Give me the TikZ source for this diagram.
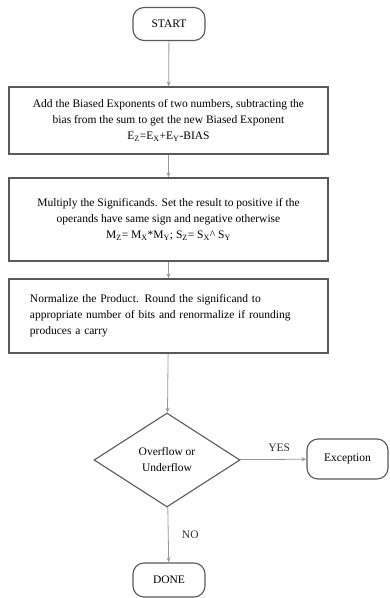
\documentclass[tikz,border=0pt]{standalone}
\usepackage{fontspec}
\setmainfont{Liberation Serif}
\usetikzlibrary{shapes.geometric,arrows.meta}
\begin{document}
\begin{tikzpicture}[x=1pt,y=-1pt,>={Stealth[length=5pt,width=4pt,open]},
	font=\fontsize{11.5}{16}\selectfont]
	\tikzset{term/.style={draw=black!65,line width=1.1pt,rounded corners=11pt,
			minimum width=72pt,minimum height=33pt,inner sep=0pt},
		procbox/.style={draw=black!65,line width=1.3pt,minimum width=319pt,
			inner sep=0pt,align=center},
		decide/.style={draw=black!65,line width=1.1pt,diamond,aspect=1.55,
			minimum width=146pt,minimum height=94pt,inner sep=0pt,align=center},
		flow/.style={->,draw=black!40,line width=0.8pt}}
	\useasboundingbox (0,0) rectangle (389,598);
	\node[term] (start) at (169,24) {START};
	\node[procbox,minimum height=67pt] (bexp) at (168.5,120.5)
	{Add the Biased Exponents of two numbers, subtracting the\\
		bias from the sum to get the new Biased Exponent\\
		E$_\mathrm{Z}$=E$_\mathrm{X}$+E$_\mathrm{Y}$-BIAS};
	\node[procbox,minimum height=83pt] (bmul) at (168.5,219.5)
	{Multiply the Significands. Set the result to positive if the\\
		operands have same sign and negative otherwise\\
		M$_\mathrm{Z}$= M$_\mathrm{X}$*M$_\mathrm{Y}$; S$_\mathrm{Z}$= S$_\mathrm{X}$\^{} S$_\mathrm{Y}$};
	\node[procbox,minimum height=74pt,align=left,text width=277pt,inner xsep=21pt]
	(bnorm) at (168.5,316)
	{Normalize the Product. Round the significand to\\
		appropriate number of bits and renormalize if rounding\\
		produces a carry};
	\node[decide] (ovf) at (167,460) {Overflow or\\Underflow};
	\node[term,minimum width=81pt,minimum height=40pt] (exc) at (347.5,459) {Exception};
	\node[term,minimum height=34pt] (done) at (169,580) {DONE};
	\draw[flow] (start) -- (bexp);
	\draw[flow] (bexp) -- (bmul);
	\draw[flow] (bmul) -- (bnorm);
	\draw[flow] (bnorm) -- (ovf);
	\draw[flow] (ovf) -- node[above=4pt,xshift=6pt,black!80]{YES} (exc);
	\draw[flow] (ovf) -- node[right=10pt,black!80]{NO} (done);
\end{tikzpicture}
\end{document}
